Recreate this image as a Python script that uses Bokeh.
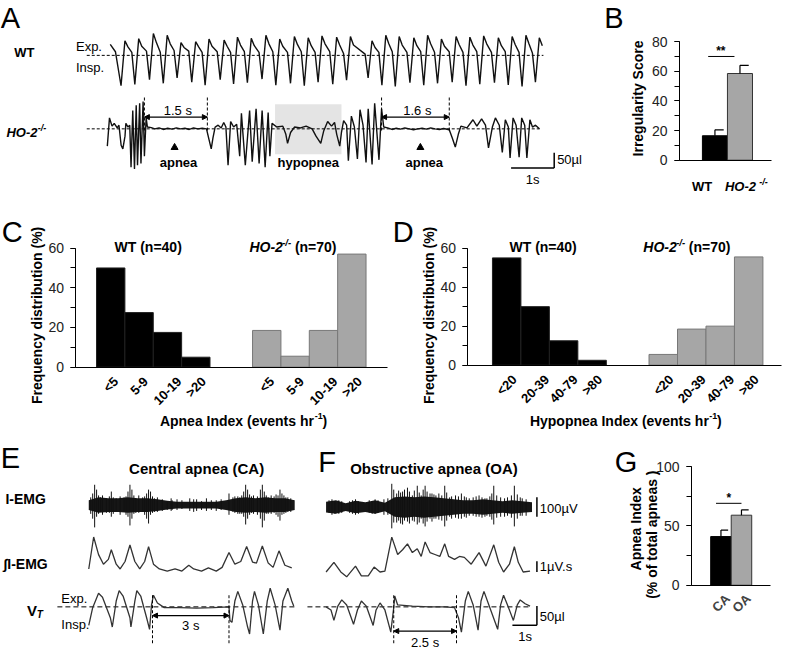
import math
from bokeh.plotting import figure
from bokeh.layouts import row, column
from bokeh.models import (Range1d, Label, Arrow, NormalHead, FixedTicker, SingleIntervalTicker, LinearAxis)
from bokeh.embed import file_html
from bokeh.resources import INLINE

FONT = "Liberation Sans"
S = 0.98  # reference px -> screen px

# ======================= DATA =======================
# ---- Panel A: WT tidal volume trace (per breath) ----
wt_lead_t = [0.0, 0.12]
wt_lead_v = [36, 12]
wt_t = [0.25, 0.57, 0.91, 1.23, 1.55, 1.89, 2.20, 2.55, 2.86, 3.18, 3.52, 3.84, 4.18, 4.50, 4.82,
        5.16, 5.48, 5.98, 6.30, 6.61, 6.95, 7.27, 7.59, 7.93, 8.25, 8.57, 8.91, 9.23, 9.55, 9.86]
wt_insp = [-100, -96, -80, -92, -74, -88, -98, -80, -94, -90, -78, -98, -92, -100, -88,
           -95, -82, -74, -98, -102, -90, -98, -92, -88, -100, -95, -90, -97, -102, -88]
wt_exp = [48, 55, 72, 66, 42, 45, 54, 50, 60, 56, 66, 54, 62, 58, 64,
          60, 62, 48, 66, 62, 58, 66, 54, 62, 60, 64, 58, 62, 66, 58]
wt_sh = [28, 30, 42, 38, 26, 28, 30, 30, 34, 32, 38, 30, 36, 32, 38,
         34, 34, 26, 38, 34, 32, 38, 30, 36, 34, 38, 32, 36, 38, 32]
wt_pl = [10, 14, 10, 16, 14, 10, 12, 10, 12, 10, 12, 10, 12, 10, 12,
         6, 4, 10, 12, 10, 12, 10, 12, 10, 12, 10, 12, 10, 8, 0]

# ---- Panel A: HO-2-/- trace (time s, volume ul) ----
ho2_trace = [(0.00, -57), (0.05, 36), (0.11, 9), (0.16, 18), (0.23, 3), (0.27, 12), (0.32, -54), (0.36, -66),
             (0.41, -24), (0.43, 18), (0.48, 6), (0.52, 12), (0.55, -126), (0.59, 60), (0.63, -132), (0.67, 78),
             (0.70, -120), (0.75, 84), (0.78, -114), (0.83, 90), (0.86, -90), (0.90, 36), (0.93, 6),
             (1.02, 4), (1.10, 0), (1.20, 3), (1.30, -2), (1.40, 2), (1.50, -1), (1.60, 3), (1.70, 0), (1.80, 2),
             (1.90, -2), (2.00, 3), (2.10, 0), (2.20, 2), (2.30, 0),
             (2.36, -36), (2.41, -66), (2.45, -30), (2.50, 6), (2.57, 12), (2.64, 3), (2.70, 21), (2.75, 6),
             (2.80, -120), (2.86, 24), (2.93, 6), (3.00, 15), (3.07, -90), (3.11, 51), (3.20, -120), (3.30, 60),
             (3.36, -108), (3.45, 66), (3.52, -114), (3.59, 60), (3.66, -126), (3.73, 54), (3.77, -90), (3.82, 18),
             (3.93, 6), (4.07, 9), (4.14, -18), (4.18, -48), (4.25, -12), (4.34, 6), (4.48, 3), (4.61, 9), (4.75, 0),
             (4.84, -24), (4.95, -48), (5.02, -6), (5.11, 24), (5.20, 9), (5.27, 21), (5.32, -18), (5.39, -57),
             (5.43, -12), (5.48, 27), (5.55, 12), (5.59, -105), (5.66, 42), (5.73, 6), (5.80, -99), (5.86, 63),
             (5.93, 12), (6.00, -111), (6.05, 66), (6.14, -117), (6.20, 84), (6.30, -102), (6.36, 66), (6.41, 6),
             (6.50, 3), (6.60, -2), (6.70, 2), (6.80, -1), (6.90, 3), (7.00, 0), (7.10, -3), (7.20, 0), (7.30, 2),
             (7.40, -1), (7.50, 3), (7.60, 0), (7.70, -2), (7.80, 1), (7.93, -3),
             (8.00, -30), (8.07, -60), (8.14, -18), (8.20, 9), (8.34, 3), (8.48, 30), (8.57, 9), (8.68, 33),
             (8.77, 12), (8.84, -63), (8.93, 6), (9.00, 36), (9.09, 12), (9.16, -78), (9.23, 30), (9.30, 6),
             (9.34, -96), (9.41, 36), (9.48, 12), (9.55, -93), (9.61, 36), (9.68, 12), (9.73, -96), (9.80, 30),
             (9.86, 6), (9.93, 12), (10.02, 0)]
ho2_apneas = [(0.86, 2.32), (6.36, 7.93)]
ho2_apnea_labels = ["1.5 s", "1.6 s"]
ho2_apnea_marks = [1.56, 7.26]
ho2_hypopnea = (3.89, 5.43)

# ---- Panel B ----
irr_groups = ["WT", "HO-2"]
irr_mean = [16.5, 58.5]
irr_err = [4.0, 5.5]

# ---- Panel C ----
apnea_bins = ["<5", "5-9", "10-19", ">20"]
apnea_wt = [50, 27.5, 17.5, 5]
apnea_ho2 = [18.5, 5.5, 18.5, 57]

# ---- Panel D ----
hypo_bins = ["<20", "20-39", "40-79", ">80"]
hypo_wt = [55, 30, 12.5, 2.5]
hypo_ho2 = [5.5, 18.5, 20, 55.5]

# ---- Panel G ----
apnea_types = ["CA", "OA"]
apnea_type_mean = [41, 59]
apnea_type_err = [5.5, 4.5]

# ---- Panel E (central apnea) ----
ca_vt = [(0.00, -48), (0.16, -2), (0.40, 35), (0.56, 25), (0.88, -28), (0.96, -52), (1.12, 15), (1.24, 42),
         (1.40, 28), (1.68, -28), (1.72, -52), (1.88, 15), (1.96, 42), (2.12, 28), (2.36, -28), (2.48, -58),
         (2.56, 5), (2.64, 30), (2.80, 10), (3.08, -2), (3.72, -2), (4.40, -3), (5.08, -2), (5.72, 0),
         (5.76, -35), (5.84, -40), (5.96, 15), (6.08, 40), (6.28, 5), (6.48, -52), (6.56, -70), (6.68, 15),
         (6.76, 40), (6.92, 5), (7.12, -70), (7.28, 15), (7.40, 48), (7.60, 5), (7.80, -60), (7.92, 15),
         (8.12, 48), (8.28, 15), (8.36, 2)]
ca_int = [(0.00, 0.1), (0.20, 3.1), (0.40, 1.45), (0.60, 0.55), (0.80, 1.0), (0.92, 1.9), (1.12, 0.55),
          (1.28, 0.1), (1.48, 0.8), (1.68, 2.35), (1.88, 0.8), (2.08, 0.1), (2.28, 0.8), (2.44, 2.2),
          (2.64, 0.55), (2.88, 0.1), (3.20, -0.1), (3.52, 0.1), (3.80, -0.1), (4.08, 0.45), (4.28, 0.1),
          (4.60, -0.1), (4.88, 0.2), (5.20, -0.1), (5.44, 0.25), (5.72, 1.65), (5.96, 0.55), (6.20, 0.8),
          (6.44, 2.2), (6.68, 0.75), (6.84, 0.65), (7.08, 2.25), (7.32, 0.65), (7.52, 0.25), (7.76, 1.8),
          (8.00, 0.45), (8.28, 0.2)]
ca_emg_env_t = [0.0, 0.4, 0.8, 1.2, 1.6, 2.0, 2.4, 2.8, 3.2, 3.6, 4.0, 4.4, 4.8, 5.2, 5.6, 6.0, 6.4, 6.8,
                7.2, 7.6, 8.0, 8.4]
ca_emg_env = [25, 40, 35, 35, 40, 35, 35, 30, 22, 18, 18, 18, 18, 18, 25, 35, 40, 35, 40, 35, 35, 25]
ca_emg_spikes = [(0.08, 40, 45), (0.16, 60, 70), (0.24, 105, 115), (0.32, 80, 60), (0.40, 50, 45),
                 (0.48, 40, 35), (0.56, 50, 50), (0.72, 35, 40), (0.84, 45, 40), (0.92, 70, 60),
                 (1.00, 40, 45), (1.12, 35, 30), (1.28, 45, 50), (1.44, 40, 35), (1.52, 45, 50),
                 (1.60, 70, 60), (1.68, 105, 105), (1.76, 80, 70), (1.84, 50, 45), (1.92, 35, 40),
                 (2.04, 50, 40), (2.20, 40, 35), (2.28, 45, 50), (2.36, 60, 70), (2.44, 80, 95),
                 (2.52, 70, 50), (2.60, 45, 40), (2.68, 35, 35), (2.80, 40, 35), (3.00, 30, 30),
                 (3.20, 20, 25), (3.36, 35, 30), (3.40, 25, 25), (3.60, 30, 25), (3.80, 25, 20),
                 (4.12, 35, 30), (4.28, 30, 35), (4.40, 30, 30), (4.60, 20, 25), (4.80, 35, 30),
                 (5.00, 25, 25), (5.20, 25, 30), (5.40, 30, 25), (5.72, 60, 50), (5.88, 40, 35),
                 (5.96, 45, 40), (6.08, 45, 45), (6.16, 40, 45), (6.24, 50, 45), (6.32, 70, 60),
                 (6.40, 105, 100), (6.48, 80, 70), (6.56, 55, 50), (6.64, 45, 40), (6.72, 50, 45),
                 (6.88, 45, 50), (7.00, 80, 70), (7.08, 105, 115), (7.16, 70, 80), (7.24, 50, 45),
                 (7.32, 40, 45), (7.44, 50, 45), (7.56, 45, 40), (7.64, 55, 50), (7.72, 50, 60),
                 (7.80, 80, 80), (7.88, 60, 50), (7.96, 50, 45), (8.04, 40, 40), (8.12, 40, 35),
                 (8.24, 35, 35)]
ca_apnea = (2.60, 5.72)

# ---- Panel F (obstructive apnea) ----
oa_vt = [(0.00, 0), (0.20, -8), (0.32, -35), (0.48, 2), (0.64, 18), (0.84, 5), (1.12, -45), (1.28, -8),
         (1.44, 15), (1.64, 2), (1.92, -48), (2.04, -8), (2.20, 10), (2.40, -8), (2.64, -65), (2.76, -2),
         (2.80, 28), (2.92, 5), (3.52, 2), (4.20, 0), (4.84, 0), (5.24, -2), (5.40, -28), (5.52, -65),
         (5.68, 15), (5.80, 40), (6.00, 5), (6.20, -60), (6.32, 15), (6.44, 40), (6.64, 5), (7.00, -58),
         (7.12, 5), (7.24, 30), (7.40, 5), (7.64, -35), (7.80, 5), (7.92, 18), (8.12, 8), (8.32, 2)]
oa_int = [(0.00, 0.18), (0.32, 1.09), (0.60, 0.18), (0.84, -0.27), (1.20, 0.73), (1.44, -0.18), (1.72, -0.18),
          (1.96, 0.64), (2.20, 0.18), (2.40, 0.27), (2.68, 3.45), (2.92, 1.82), (3.12, 2.27), (3.32, 2.82),
          (3.52, 2.0), (3.72, 2.36), (3.88, 1.64), (4.04, 3.0), (4.24, 2.0), (4.44, 1.82), (4.64, 1.64),
          (4.84, 2.82), (5.00, 1.64), (5.24, 1.36), (5.44, 1.64), (5.64, 1.55), (5.92, 0.91), (6.24, 2.0),
          (6.52, 0.73), (6.84, 2.73), (7.04, 1.09), (7.24, 0.18), (7.48, 0.91), (7.68, 2.55), (7.84, 1.09),
          (8.04, 0.18), (8.32, 0.27)]
oa_emg_env_t = [0.0, 0.4, 0.8, 1.2, 1.6, 2.0, 2.4, 2.8, 3.2, 3.6, 4.0, 4.4, 4.8, 5.2, 5.6, 6.0, 6.4, 6.8,
                7.2, 7.6, 8.0, 8.4]
oa_emg_env = [28, 35, 20, 32, 25, 35, 22, 50, 55, 50, 55, 50, 45, 40, 35, 35, 40, 35, 30, 35, 30, 25]
oa_emg_spikes = [(0.12, 35, 30), (0.24, 40, 40), (0.36, 30, 35), (0.52, 35, 35), (0.64, 30, 30),
                 (0.96, 30, 30), (1.08, 35, 35), (1.20, 40, 40), (1.32, 30, 35), (1.76, 35, 30),
                 (1.88, 30, 35), (2.00, 40, 35), (2.12, 35, 30), (2.36, 40, 40), (2.52, 45, 40),
                 (2.68, 120, 110), (2.76, 90, 80), (2.88, 70, 80), (2.96, 85, 70), (3.04, 75, 85),
                 (3.12, 80, 90), (3.20, 90, 70), (3.32, 100, 75), (3.40, 80, 85), (3.52, 60, 70),
                 (3.60, 85, 75), (3.72, 110, 90), (3.80, 75, 80), (3.88, 60, 60), (3.96, 90, 85),
                 (4.04, 110, 100), (4.12, 80, 75), (4.24, 70, 60), (4.32, 70, 75), (4.40, 65, 60),
                 (4.48, 60, 60), (4.60, 70, 65), (4.72, 60, 70), (4.84, 110, 100), (4.92, 75, 70),
                 (5.04, 50, 50), (5.12, 55, 60), (5.28, 60, 55), (5.40, 55, 60), (5.52, 70, 60),
                 (5.64, 55, 50), (5.72, 50, 55), (5.84, 45, 45), (6.00, 50, 45), (6.12, 55, 50),
                 (6.24, 60, 50), (6.36, 50, 55), (6.48, 45, 50), (6.56, 45, 45), (6.68, 55, 50),
                 (6.76, 70, 65), (6.84, 110, 90), (6.96, 60, 55), (7.12, 50, 50), (7.28, 45, 50),
                 (7.40, 50, 45), (7.56, 60, 55), (7.68, 110, 100), (7.80, 65, 60), (7.92, 50, 45),
                 (8.00, 45, 45), (8.16, 40, 45)]
oa_apnea = (2.76, 5.32)

# ======================= HELPERS =======================
CW = {' ': .278, '(': .333, ')': .333, '-': .333, '/': .278, '=': .584, '<': .584, '>': .584, '.': .278,
      '*': .389, '%': .889, 'A': .722, 'C': .722, 'E': .667, 'G': .778, 'H': .722, 'I': .278, 'M': .833,
      'O': .778, 'S': .667, 'T': .611, 'W': .944, 'n': .611, 'e': .556, 'a': .556, 'p': .611, 'd': .611,
      'x': .556, 'v': .556, 't': .333, 's': .556, 'h': .611, 'r': .389, 'i': .278, 'o': .611, 'l': .278,
      'f': .333}


def tw(s, size):
    return sum(CW.get(c, 0.556) for c in s) * size


def lab(p, conv, rx, ry, text, size, style="normal", align="left", baseline="middle", angle=0.0,
        xo=0.0, yo=0.0, color="black"):
    x, y = conv(rx, ry)
    p.add_layout(Label(x=x, y=y, x_offset=xo, y_offset=yo, text=text, text_font=FONT,
                       text_font_size=f"{size}px", text_font_style=style, text_align=align,
                       text_baseline=baseline, angle=angle, text_color=color))


def rich(p, conv, rx, ry, parts, align="center"):
    total = sum(tw(t, s) + g for t, s, st, r, g in parts)
    off = -total / 2 if align == "center" else 0.0
    for t, s, st, r, g in parts:
        off += g
        lab(p, conv, rx, ry, t, s, st, "left", "middle", xo=off * S, yo=r * S)
        off += tw(t, s)


def ident(rx, ry):
    return rx, ry


def clean(p):
    p.outline_line_color = None
    p.grid.visible = False
    p.background_fill_color = "white"
    p.border_fill_color = "white"


def trace_fig(w, h, region):
    p = figure(width=w, height=h, x_range=Range1d(region[0], region[2]),
               y_range=Range1d(region[3], region[1]), output_backend="svg", toolbar_location=None,
               min_border=0, x_axis_location=None, y_axis_location=None, title_location=None)
    clean(p)
    return p


def bar_panel(w, h, region, frame, xr, yr, yint):
    def conv(rx, ry):
        return (xr[0] + (rx - frame[0]) / (frame[2] - frame[0]) * (xr[1] - xr[0]),
                yr[0] + (frame[3] - ry) / (frame[3] - frame[1]) * (yr[1] - yr[0]))
    x_lo, y_hi = conv(region[0], region[1])
    x_hi, y_lo = conv(region[2], region[3])
    p = figure(width=w, height=h, x_range=Range1d(x_lo, x_hi), y_range=Range1d(y_lo, y_hi),
               output_backend="svg", toolbar_location=None, min_border=0,
               x_axis_location=None, y_axis_location=None, title_location=None)
    clean(p)
    xax = LinearAxis(fixed_location=yr[0], bounds=(xr[0], xr[1]), ticker=FixedTicker(ticks=[]),
                     axis_line_color="black", major_tick_line_color=None, minor_tick_line_color=None)
    p.add_layout(xax, "below")
    yax = LinearAxis(fixed_location=xr[0], bounds=(yr[0], yr[1]),
                     ticker=SingleIntervalTicker(interval=yint, num_minor_ticks=2),
                     axis_line_color="black", major_tick_in=0, major_tick_out=5, minor_tick_in=0,
                     minor_tick_out=5, major_label_text_font=FONT, major_label_text_font_size="14px",
                     major_label_text_color="#222222", major_label_standoff=7)
    p.add_layout(yax, "left")
    return p, conv


def seg(p, x0, y0, x1, y1, dash="solid", width=1.0, color="black"):
    p.segment(x0=[x0], y0=[y0], x1=[x1], y1=[y1], line_color=color, line_width=width, line_dash=dash)


def arrow2(p, x0, x1, y):
    p.add_layout(Arrow(x_start=x0, y_start=y, x_end=x1, y_end=y, line_width=1.2, line_color="black",
                       start=NormalHead(size=5, fill_color="black", line_color="black"),
                       end=NormalHead(size=5, fill_color="black", line_color="black")))


# ======================= PANEL A =======================
pA = trace_fig(588, 194, (0, 0, 600, 198))
A_PXS, A_PXU = 44.0, 0.31
WT_X0, WT_BASE = 112, 56
HO_X0, HO_BASE = 109, 131

wts, wvs = list(wt_lead_t), list(wt_lead_v)
for i, t in enumerate(wt_t):
    wts += [t, t + 0.09, t + 0.16]
    wvs += [wt_insp[i], wt_exp[i], wt_sh[i]]
    if i < len(wt_t) - 1:
        wts.append(wt_t[i + 1] - 0.07)
        wvs.append(wt_pl[i])
seg(pA, 88, WT_BASE, 554, WT_BASE, dash="3 2", width=1)
pA.line([WT_X0 + t * A_PXS for t in wts], [WT_BASE - v * A_PXU for v in wvs],
        line_color="#111111", line_width=1.4)

pA.quad(left=[HO_X0 + ho2_hypopnea[0] * A_PXS], right=[HO_X0 + ho2_hypopnea[1] * A_PXS],
        top=[106], bottom=[157], fill_color="#e4e4e4", line_color=None)
seg(pA, 88, HO_BASE, 552, HO_BASE, dash="3 2", width=1)
pA.line([HO_X0 + t * A_PXS for t, v in ho2_trace], [HO_BASE - v * A_PXU for t, v in ho2_trace],
        line_color="#111111", line_width=1.4)
for (s, e), txt in zip(ho2_apneas, ho2_apnea_labels):
    xs, xe = HO_X0 + s * A_PXS, HO_X0 + e * A_PXS
    seg(pA, xs, 99, xs, 133, dash="3 2")
    seg(pA, xe, 99, xe, 133, dash="3 2")
    arrow2(pA, xs, xe, 119)
    lab(pA, ident, (xs + xe) / 2 + 2, 112, txt, 13, align="center")
mx = [HO_X0 + t * A_PXS for t in ho2_apnea_marks]
pA.scatter(x=mx, y=[150] * len(mx), marker="triangle", size=7, fill_color="black", line_color="black")
for x in mx:
    lab(pA, ident, x + 4, 165, "apnea", 13, "bold", align="center")
lab(pA, ident, HO_X0 + (ho2_hypopnea[0] + ho2_hypopnea[1]) / 2 * A_PXS, 165, "hypopnea", 13, "bold",
    align="center")
seg(pA, 565 - 1 * A_PXS, 171, 565, 171, width=1.5)
seg(pA, 565, 171, 565, 171 - 50 * A_PXU, width=1.5)
lab(pA, ident, 568, 162, "50µl", 13)
lab(pA, ident, 543, 183, "1s", 13, align="center")
lab(pA, ident, 10, 18, "A", 29, align="center")
lab(pA, ident, 14, 53, "WT", 13, "bold")
lab(pA, ident, 77, 47, "Exp.", 13)
lab(pA, ident, 77, 68, "Insp.", 13)
rich(pA, ident, 6, 135, [("HO-2", 13, "bold italic", 0, 0), ("-/-", 9, "bold italic", 5, 1)], align="left")

# ======================= PANEL B =======================
pB, cB = bar_panel(196, 194, (600, 0, 800, 198), (693, 42, 787, 163), (-1.41, 2.27), (0, 80), 20)
bx = list(range(len(irr_groups)))
btop = [m + e for m, e in zip(irr_mean, irr_err)]
pB.vbar(x=bx, top=irr_mean, width=1, fill_color=["black", "#a6a6a6"], line_color=["black", "#333333"])
pB.segment(x0=bx, y0=irr_mean, x1=bx, y1=btop, line_color="black", line_width=1.2)
pB.segment(x0=bx, y0=btop, x1=[x + 0.35 for x in bx], y1=btop, line_color="black", line_width=1.2)
seg(pB, -0.27, 70, 0.78, 70)
lab(pB, cB, 735, 52, "**", 12, "bold", align="center")
lab(pB, cB, 651, 100, "Irregularity Score", 14, "bold", align="center", angle=math.pi / 2)
lab(pB, cB, 626, 18, "B", 29, align="center")
lab(pB, cB, 716, 190, "WT", 13, "bold", align="center")
rich(pB, cB, 761, 190, [("HO-2", 13, "bold italic", 0, 0), ("-/-", 9, "bold italic", 5, 4)])


# ======================= PANELS C / D =======================
def hist_panel(region, frame, xr, bins, wt, ho2, letter, letter_pos, xtitle, title_x, wt_title_x,
               ho_title_x, ylab_x):
    p, c = bar_panel(392, 236, region, frame, xr, (0, 60), 20)
    xw = [2 * i for i in range(len(bins))]
    xh = [2 * i + 11 for i in range(len(bins))]
    p.vbar(x=xw, top=wt, width=2, fill_color="black", line_color="#202020", line_width=1)
    p.vbar(x=xh, top=ho2, width=2, fill_color="#a6a6a6", line_color="#777777", line_width=1)
    ax_y = frame[3]
    for xs in (xw, xh):
        for x, b in zip(xs, bins):
            yc = ax_y + 8 + (tw(b, 13) + 13) * 0.354
            _, yd = c(0, yc)
            p.add_layout(Label(x=x, y=yd, text=b, text_font=FONT, text_font_size="13px",
                               text_font_style="bold", text_align="center", text_baseline="middle",
                               angle=math.pi / 4, text_color="black"))
    rich(p, c, wt_title_x, frame[1] - 1, [("WT (n=40)", 14, "bold", 0, 0)])
    rich(p, c, ho_title_x, frame[1] - 1, [("HO-2", 14, "bold italic", 0, 0),
                                           ("-/-", 9.5, "bold italic", 5, 0),
                                           ("(n=70)", 14, "bold", 0, 4)])
    rich(p, c, title_x, 430, [(xtitle, 14, "bold", 0, 0), ("-1", 9, "bold", 5, 4), (")", 14, "bold", 0, 0)])
    lab(p, c, ylab_x, 322, "Frequency distribution (%)", 14, "bold", align="center", angle=math.pi / 2)
    lab(p, c, letter_pos[0], letter_pos[1], letter, 29, align="center")
    return p


pC = hist_panel((0, 198, 400, 440), (77, 253, 395, 375), (-2.45, 19.52), apnea_bins, apnea_wt, apnea_ho2,
                "C", (12, 236), "Apnea Index (events hr", 248, 150, 298, 37)
pD = hist_panel((400, 198, 800, 440), (477, 253, 797, 373), (-2.72, 19.31), hypo_bins, hypo_wt, hypo_ho2,
                "D", (411, 236), "Hypopnea Index (events hr", 638, 553, 700, 437)

# ======================= PANEL E / F =======================
pEF = trace_fig(608, 219, (0, 437, 620, 663))
PXS, VT_U, EMG_U, INT_U = 25.0, 0.4, 0.2, 11.0


def draw_set(p, x0, vt, vt_base, integ, int_base, env_t, env, spikes, emg_c, apnea, apnea_y, apnea_txt,
             txt_y, dash_x0, dash_x1):
    p.varea(x=[x0 + t * PXS for t in env_t], y1=[emg_c - a * EMG_U for a in env],
            y2=[emg_c + a * EMG_U for a in env], fill_color="#161616")
    p.segment(x0=[x0 + t * PXS for t, u, d in spikes], x1=[x0 + t * PXS for t, u, d in spikes],
              y0=[emg_c - u * EMG_U for t, u, d in spikes], y1=[emg_c + d * EMG_U for t, u, d in spikes],
              line_color="#111111", line_width=1.0)
    p.line([x0 + t * PXS for t, v in integ], [int_base - v * INT_U for t, v in integ], line_color="#333333",
           line_width=1.3)
    seg(p, dash_x0, vt_base, dash_x1, vt_base, dash="5 3", width=1)
    p.line([x0 + t * PXS for t, v in vt], [vt_base - v * VT_U for t, v in vt], line_color="#333333",
           line_width=1.3)
    xs, xe = x0 + apnea[0] * PXS, x0 + apnea[1] * PXS
    seg(p, xs, 607, xs, 657, dash="3 2")
    seg(p, xe, 607, xe, 657, dash="3 2")
    arrow2(p, xs, xe, apnea_y)
    lab(p, ident, (xs + xe) / 2, txt_y, apnea_txt, 13, align="center")


draw_set(pEF, 90, ca_vt, 619, ca_int, 581, ca_emg_env_t, ca_emg_env, ca_emg_spikes, 514, ca_apnea, 628,
         "3 s", 638, 58, 300)
draw_set(pEF, 332, oa_vt, 619, oa_int, 585, oa_emg_env_t, oa_emg_env, oa_emg_spikes, 516, oa_apnea, 644,
         "2.5 s", 656, 313, 540)
seg(pEF, 547, 516 - 50 * EMG_U, 547, 516 + 50 * EMG_U, width=1.5)
lab(pEF, ident, 550, 517, "100µV", 13)
seg(pEF, 547, 583, 547, 583 - 1 * INT_U, width=1.5)
lab(pEF, ident, 550, 577, "1µV.s", 13)
seg(pEF, 547, 638, 547, 638 - 50 * VT_U, width=1.5)
seg(pEF, 547 - 1 * PXS, 638, 547, 638, width=1.5)
lab(pEF, ident, 550, 629, "50µl", 13)
lab(pEF, ident, 535, 650, "1s", 13, align="center")
lab(pEF, ident, 10, 465, "E", 29, align="center")
lab(pEF, ident, 333, 470, "F", 29, align="center")
lab(pEF, ident, 200, 476, "Central apnea (CA)", 15, "bold", align="center")
lab(pEF, ident, 442, 476, "Obstructive apnea (OA)", 15, "bold", align="center")
lab(pEF, ident, 5, 508, "I-EMG", 14, "bold")
lab(pEF, ident, 3, 575, "∫I-EMG", 14, "bold")
lab(pEF, ident, 27, 623, "V", 15, "bold")
lab(pEF, ident, 37, 627, "T", 10, "bold italic")
lab(pEF, ident, 62, 610, "Exp.", 13)
lab(pEF, ident, 62, 637, "Insp.", 13)

# ======================= PANEL G =======================
pG, cG = bar_panel(176, 219, (620, 440, 800, 665), (705, 477, 786, 599), (-1.43, 2.43), (0, 100), 50)
gx = list(range(len(apnea_types)))
gtop = [m + e for m, e in zip(apnea_type_mean, apnea_type_err)]
pG.vbar(x=gx, top=apnea_type_mean, width=1, fill_color=["black", "#a6a6a6"], line_color=["black", "#333333"])
pG.segment(x0=gx, y0=apnea_type_mean, x1=gx, y1=gtop, line_color="black", line_width=1.2)
pG.segment(x0=gx, y0=gtop, x1=[x + 0.35 for x in gx], y1=gtop, line_color="black", line_width=1.2)
seg(pG, -0.24, 69, 1.0, 69)
lab(pG, cG, 743, 509, "*", 12, "bold", align="center")
for x, t in zip(gx, apnea_types):
    _, yd = cG(0, 599 + 7 + (tw(t, 13) + 13) * 0.354)
    pG.add_layout(Label(x=x, y=yd, text=t, text_font=FONT, text_font_size="13px", text_font_style="bold",
                        text_align="center", text_baseline="middle", angle=math.pi / 4))
lab(pG, cG, 648, 541, "Apnea Index", 14, "bold", align="center", angle=math.pi / 2)
lab(pG, cG, 664, 547, "(% of total apneas )", 14, "bold", align="center", angle=math.pi / 2)
lab(pG, cG, 638, 472, "G", 29, align="center")

layout = column(row(pA, pB), row(pC, pD), row(pEF, pG))
open("out.html", "w").write(file_html(layout, INLINE))
